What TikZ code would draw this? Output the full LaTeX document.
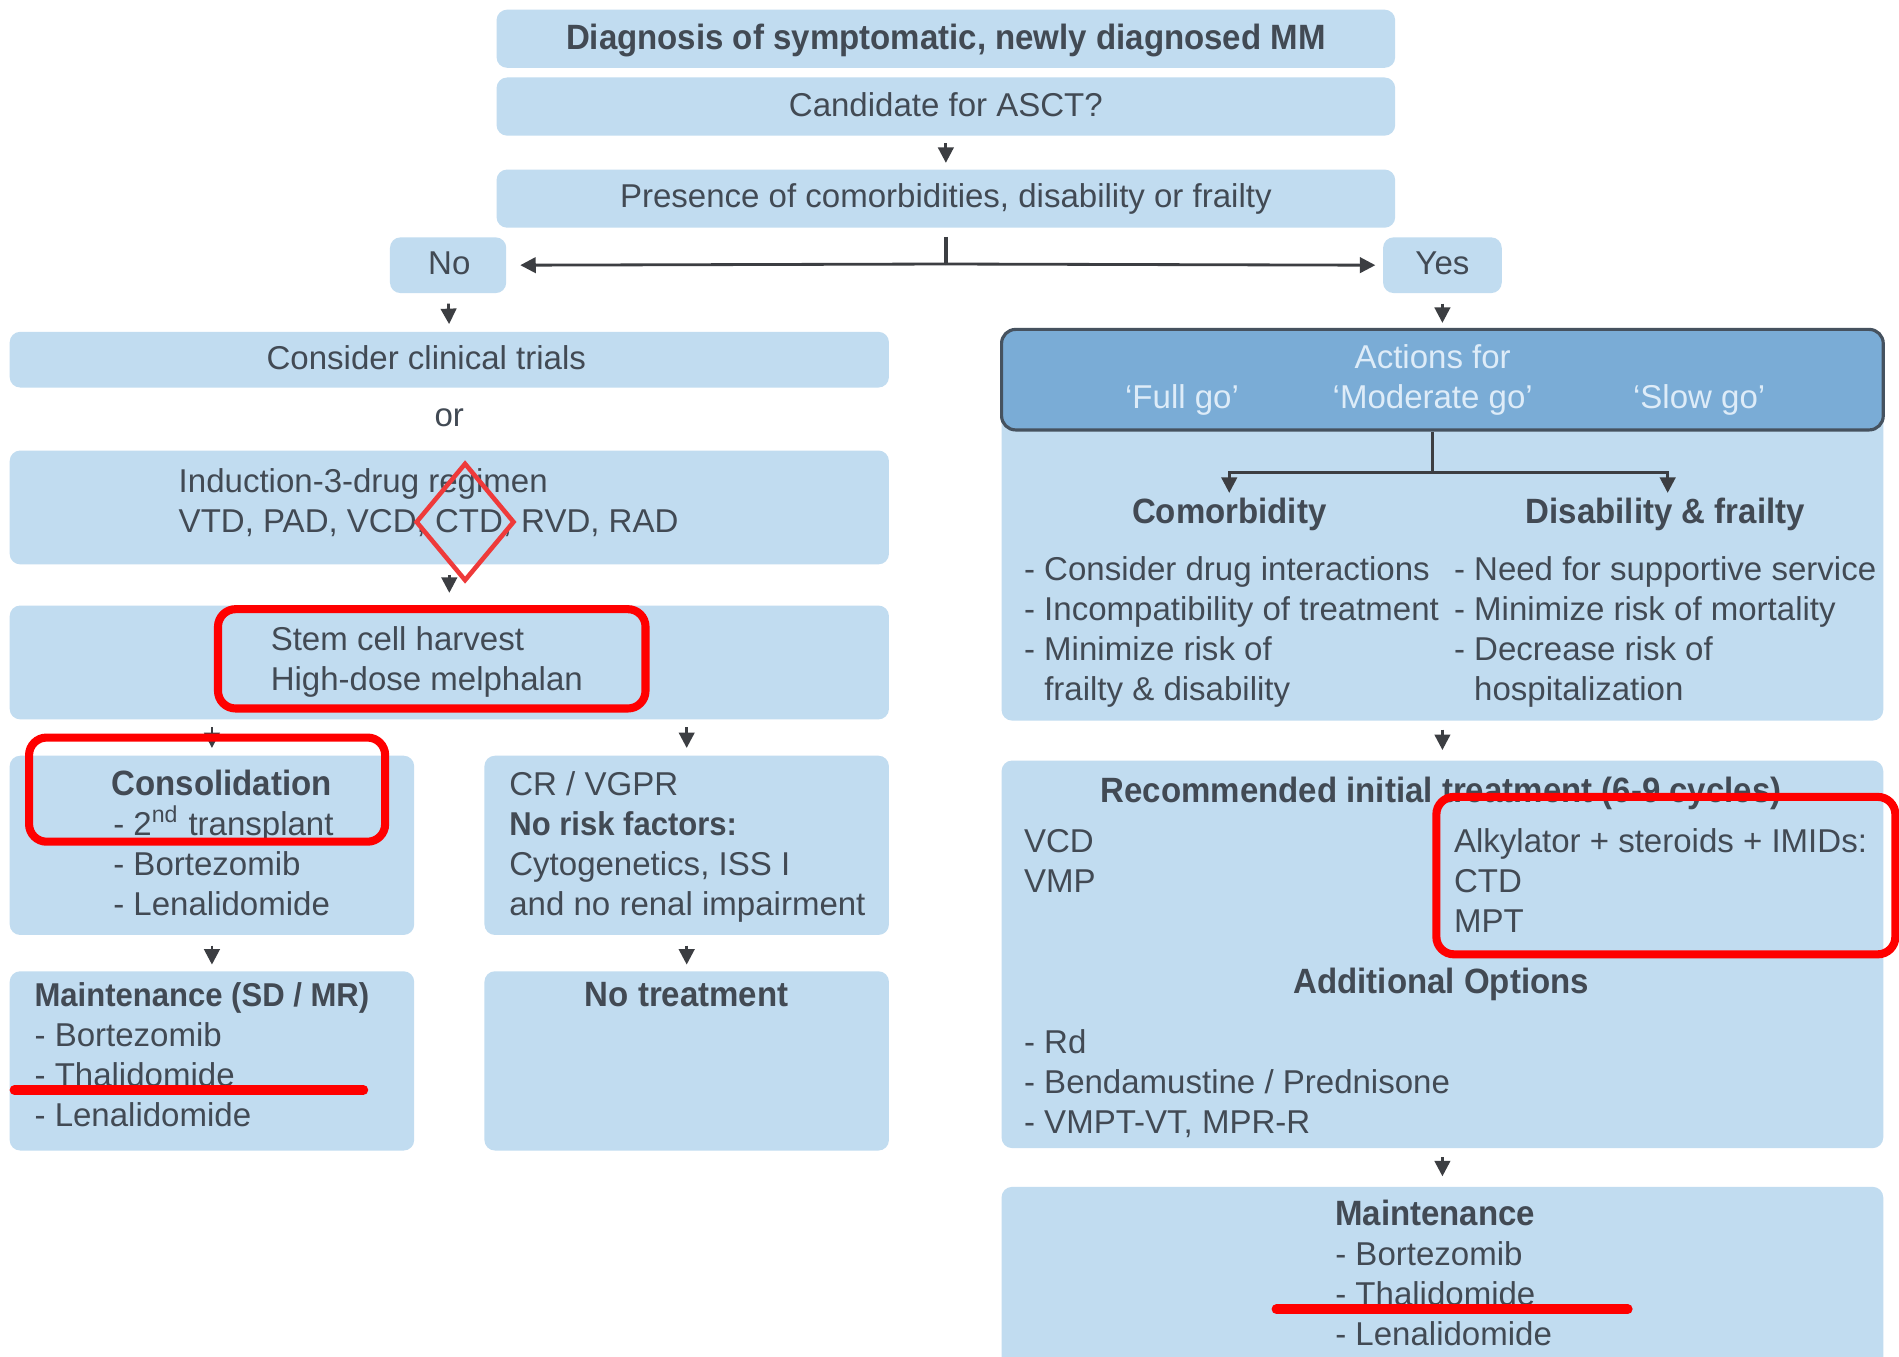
\documentclass[tikz,border=0pt]{standalone}
\usepackage{fontspec}
\setmainfont{Liberation Sans}[BoldFeatures={FakeStretch=0.94}]
\usetikzlibrary{arrows.meta,fit,calc}
\definecolor{boxblue}{RGB}{193,220,240}
\definecolor{actblue}{RGB}{122,172,214}
\definecolor{actedge}{RGB}{70,82,95}
\definecolor{acttext}{RGB}{222,236,248}
\definecolor{textgray}{RGB}{66,74,84}
\definecolor{arrowgray}{RGB}{60,62,66}
\definecolor{hlred}{RGB}{255,0,0}
\definecolor{dmred}{RGB}{238,58,58}
\tikzset{
  box/.style={fill=boxblue, rounded corners=3pt, inner sep=0pt, draw=none},
  actbox/.style={fill=actblue, draw=actedge, line width=0.9pt, rounded corners=4pt, inner sep=0pt},
  % multi-line text nodes are anchored at the baseline of their last line
  txt/.style={inner sep=0pt, text=textgray, anchor=base west, align=left},
  ctxt/.style={inner sep=0pt, text=textgray, anchor=base},
  acttxt/.style={inner sep=0pt, text=acttext, anchor=base},
  arr/.style={draw=arrowgray, line width=0.8pt, -{Triangle[width=4.4pt,length=4.4pt]}},
  link/.style={draw=arrowgray, line width=1pt},
  hilite/.style={draw=hlred, line width=2.3pt, rounded corners=5pt},
  strike/.style={draw=hlred, line width=2.8pt, line cap=round},
}
\begin{document}
\begin{tikzpicture}[x=0.01211cm, y=-0.01211cm, font=\fontsize{9.4}{11.37}\selectfont]
\useasboundingbox (0,0) rectangle (1568,1120);
\clip (0,0) rectangle (1568,1120);
\fill[white] (0,0) rectangle (1568,1120);

% ---- boxes ----
\node[box, fit={(410,8) (1152,56)}] (diag) {};
\node[box, fit={(410,64) (1152,112)}] (cand) {};
\node[box, fit={(410,140) (1152,188)}] (pres) {};
\node[box, fit={(322,196) (418,242)}] (no) {};
\node[box, fit={(1142,196) (1240,242)}] (yes) {};
\node[box, fit={(8,274) (734,320)}] (trials) {};
\node[box, fit={(8,372) (734,466)}] (induct) {};
\node[box, fit={(8,500) (734,594)}] (stem) {};
\node[box, fit={(8,624) (342,772)}] (cons) {};
\node[box, fit={(400,624) (734,772)}] (cr) {};
\node[box, fit={(8,802) (342,950)}] (maintL) {};
\node[box, fit={(400,802) (734,950)}] (notreat) {};
\node[box, fit={(827,272) (1555,595)}] (comorbbox) {};
\node[actbox, fit={(827,272) (1555,355)}] (actions) {};
\node[box, fit={(827,628) (1555,948)}] (rec) {};
\node[box, fit={(827,980) (1555,1140)}] (maintR) {};

% ---- texts: top chain ----
\node[ctxt, font=\bfseries] (tdiag) at (781,41) {Diagnosis of symptomatic, newly diagnosed MM};
\node[ctxt] (tcand) at (781,96) {Candidate for ASCT?};
\node[ctxt] (tpres) at (781,171) {Presence of comorbidities, disability or frailty};
\node[ctxt] (tno) at (371,227) {No};
\node[ctxt] (tyes) at (1191,227) {Yes};

% ---- left branch ----
\node[ctxt] (ttrials) at (352,305) {Consider clinical trials};
\node[ctxt] (tor) at (371,352) {or};
\node[txt] (tinduct) at (147,440) {Induction-3-drug regimen\\VTD, PAD, VCD, CTD, RVD, RAD};
\node[txt] (tstem) at (223,570) {Stem cell harvest\\High-dose melphalan};
\node[ctxt, font=\bfseries] (tcons) at (183,657) {Consolidation};
\node[txt] (tconslist) at (93,756) {- 2\textsuperscript{nd} transplant\\- Bortezomib\\- Lenalidomide};
\node[txt] (tcr) at (420,756) {CR / VGPR\\\textbf{No risk factors:}\\Cytogenetics, ISS I\\and no renal impairment};
\node[txt] (tmaintL) at (28,930) {\textbf{Maintenance (SD / MR)}\\- Bortezomib\\- Thalidomide\\- Lenalidomide};
\node[ctxt, font=\bfseries] (tnotreat) at (567,831) {No treatment};

% ---- right branch ----
\node[acttxt] (tact) at (1183,304) {Actions for};
\node[acttxt] (tfull) at (976,337) {`Full go'};
\node[acttxt] (tmod) at (1183,337) {`Moderate go'};
\node[acttxt] (tslow) at (1403,337) {`Slow go'};
\node[ctxt, font=\bfseries] (tcomorb) at (1015,432) {Comorbidity};
\node[ctxt, font=\bfseries] (tdisab) at (1375,432) {Disability \& frailty};
\node[txt] (tcomlist) at (845,578) {- Consider drug interactions\\- Incompatibility of treatment\\- Minimize risk of\\\phantom{- }frailty \& disability};
\node[txt] (tdislist) at (1200,578) {- Need for supportive service\\- Minimize risk of mortality\\- Decrease risk of\\\phantom{- }hospitalization};
\node[ctxt, font=\bfseries] (trec) at (1190,663) {Recommended initial treatment (6-9 cycles)};
\node[txt] (trecl) at (845,737) {VCD\\VMP};
\node[txt] (trecr) at (1200,770) {Alkylator + steroids + IMIDs:\\CTD\\MPT};
\node[ctxt, font=\bfseries] (tadd) at (1190,820) {Additional Options};
\node[txt] (taddlist) at (845,936) {- Rd\\- Bendamustine / Prednisone\\- VMPT-VT, MPR-R};
\node[ctxt, font=\bfseries] (tmaintR) at (1185,1012) {Maintenance};
\node[txt] (tmaintRl) at (1102,1111) {- Bortezomib\\- Thalidomide\\- Lenalidomide};

% ---- connectors ----
\coordinate (split) at (781,218);
\coordinate (branch) at (1183,390);
\coordinate (tipL) at (1015,407);
\coordinate (tipR) at (1377,407);
\draw[arr, shorten <=2pt, shorten >=1.7pt] (cand.south) -- (pres.north);
\draw[link, shorten <=2.4pt] (pres.south) -- (split);
\draw[arr, shorten >=3.8pt] (split) -- (no.east);
\draw[arr, shorten >=2pt] (split) -- (yes.west);
\draw[arr, shorten <=2.8pt, shorten >=2pt] (no.south) -- (trials.north);
\draw[arr, shorten <=2.8pt, shorten >=3.4pt] (induct.south) -- (induct.south |- stem.north);
\draw[arr, shorten <=2pt, shorten >=2pt] (stem.south -| cons.north) -- (cons.north);
\draw[arr, shorten <=2pt, shorten >=2pt] (stem.south -| cr.north) -- (cr.north);
\draw[arr, shorten <=2.8pt, shorten >=1.7pt] (cons.south) -- (maintL.north);
\draw[arr, shorten <=2.8pt, shorten >=1.7pt] (cr.south) -- (notreat.north);
\draw[arr, shorten <=2.8pt, shorten >=1.4pt] (yes.south) -- (yes.south |- actions.north);
\draw[link] (actions.south -| branch) -- (branch);
\draw[arr] (branch) -| (tipL);
\draw[arr] (branch) -| (tipR);
\draw[arr, shorten <=2.4pt, shorten >=2.8pt] (comorbbox.south) -- (rec.north);
\draw[arr, shorten <=2.4pt, shorten >=2.8pt] (rec.south) -- (maintR.north);

% ---- red highlights ----
\draw[draw=dmred, line width=1.3pt, line join=miter] (384,383) -- (424,431) -- (384,479) -- (344,431) -- cycle;
\draw[hilite] (180,503) rectangle (533,585);
\draw[hilite] (24,609) rectangle (318,695);
\draw[hilite] (1186,658) rectangle (1565,788);
\draw[strike] (12,900) -- (300,900);
\draw[strike] (1054,1081) -- (1344,1081);
\end{tikzpicture}
\end{document}
